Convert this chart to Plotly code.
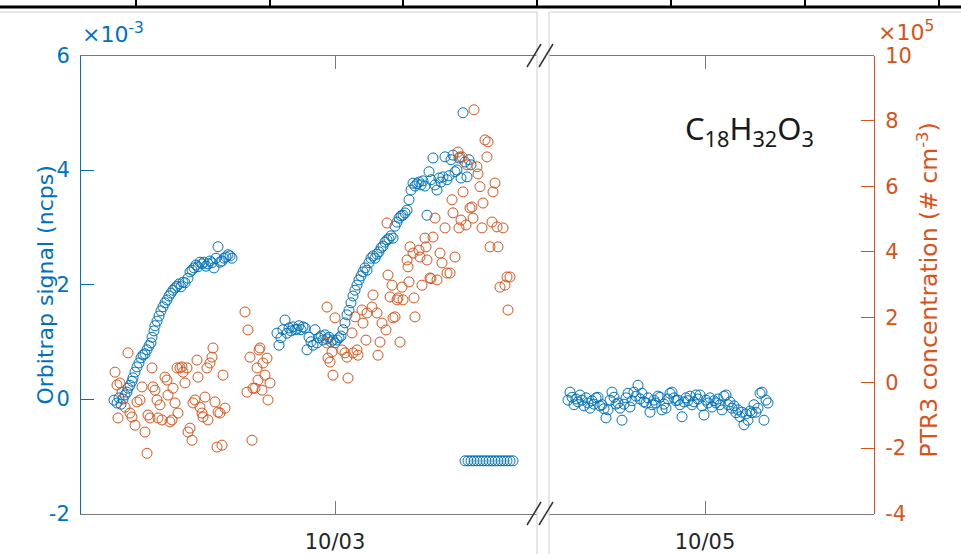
import pandas as pd
import plotly.graph_objects as go

# ---------------------------------------------------------------------------
# Data (time in hours after 2021-10-02 00:00)
# Orbitrap signal in units of 1e-3 ncps, PTR3 concentration in units of 1e5 cm^-3
# ---------------------------------------------------------------------------
orbitrap_left_hours = [
    1.9, 2.2, 2.4, 2.6, 2.8, 3.0, 3.2, 3.3, 3.5, 3.7, 3.8, 4.0, 4.2, 4.4, 4.6, 4.8,
    5.0, 5.2, 5.4, 5.6, 5.7, 5.9, 6.0, 6.2, 6.4, 6.6, 6.8, 7.0, 7.2, 7.4, 7.6, 7.8,
    8.0, 8.2, 8.4, 8.6, 8.8, 9.0, 9.3, 9.5, 9.7, 9.9, 10.1, 10.3, 10.5, 10.7, 10.9,
    11.1, 11.3, 11.5, 11.7, 11.9, 12.1, 12.3, 12.5, 12.7, 12.9, 13.1, 13.3, 13.5, 13.7,
    18.2, 18.4, 18.6, 18.8, 19.0, 19.2, 19.4, 19.6, 19.8, 20.0, 20.2, 20.4, 20.6, 20.8,
    21.0, 21.2, 21.4, 21.6, 21.8, 22.0, 22.2, 22.4, 22.6, 22.8, 23.0, 23.2, 23.4, 23.6,
    23.8, 24.0, 24.2, 24.4, 24.6, 24.8, 25.0, 25.2, 25.4, 25.6, 25.8, 26.0, 26.2, 26.4,
    26.6, 26.8, 27.0, 27.2, 27.4, 27.6, 27.8, 28.0, 28.2, 28.4, 28.6, 28.8, 29.0, 29.2,
    29.4, 29.6, 29.8, 30.0, 30.2, 30.4, 30.6, 30.8, 31.0, 31.2, 31.4, 31.6, 31.8, 32.0,
    32.2, 32.4, 32.6, 32.8, 33.0, 33.2, 33.4, 33.6, 33.8, 34.0, 34.2, 34.4, 34.6, 34.8,
    35.0, 35.2, 35.4, 35.6, 35.8, 36.0, 36.2, 36.4, 36.6, 36.8, 37.0, 37.2, 37.4, 37.6,
]
orbitrap_left_signal = [
    -0.02, -0.07, 0.02, -0.09, 0.00, 0.07, 0.12, 0.19, 0.24, 0.31, 0.37, 0.47, 0.56, 0.63, 0.72, 0.77,
    0.79, 0.86, 0.93, 0.98, 1.08, 1.19, 1.28, 1.36, 1.45, 1.54, 1.61, 1.68, 1.73, 1.80, 1.85, 1.90,
    1.94, 1.97, 2.01, 1.96, 2.04, 2.03, 2.11, 2.22, 2.25, 2.29, 2.34, 2.31, 2.39, 2.36, 2.39,
    2.32, 2.36, 2.41, 2.38, 2.29, 2.46, 2.66, 2.39, 2.41, 2.46, 2.48, 2.52, 2.50, 2.46,
    1.15, 0.94, 1.07, 1.21, 1.38, 1.15, 1.24, 1.19, 1.26, 1.21, 1.22, 1.28, 1.21, 1.26,
    1.24, 0.86, 1.08, 1.00, 0.94, 1.21, 0.98, 1.07, 1.10, 1.03, 1.12, 1.05, 1.08, 1.00,
    1.03, 0.98, 1.03, 1.07, 1.10, 1.21, 1.33, 1.47, 1.55, 1.68, 1.80, 1.90, 1.99, 2.08,
    2.15, 2.22, 2.29, 2.25, 2.38, 2.46, 2.50, 2.46, 2.53, 2.57, 2.64, 2.67, 2.74, 2.78,
    2.80, 2.85, 2.81, 3.02, 3.09, 3.16, 3.20, 3.21, 3.25, 3.30, 3.48, 3.65, 3.77, 3.72,
    3.76, 3.79, 3.74, 3.81, 3.72, 3.21, 3.97, 3.83, 4.21, 3.74, 3.65, 3.86, 3.79, 3.88,
    4.23, 3.83, 3.90, 4.18, 4.26, 3.97, 4.00, 4.21, 3.86, 5.00, 4.14, 3.88, 4.18, 4.09,
]

orbitrap_flat_hours = [
    37.0, 37.3, 37.6, 37.9, 38.2, 38.5, 38.8, 39.1, 39.4, 39.7,
    40.0, 40.3, 40.6, 40.9, 41.2, 41.5, 41.8,
]
orbitrap_flat_signal = [
    -1.08, -1.08, -1.08, -1.08, -1.08, -1.08, -1.08, -1.08, -1.08, -1.08,
    -1.08, -1.08, -1.08, -1.08, -1.08, -1.08, -1.08,
]

orbitrap_right_hours = [
    58.3, 58.5, 58.7, 58.9, 59.1, 59.3, 59.5, 59.7, 59.9, 60.1,
    60.3, 60.5, 60.7, 60.9, 61.1, 61.3, 61.5, 61.7, 61.9, 62.1,
    62.3, 62.5, 62.7, 62.9, 63.1, 63.3, 63.5, 63.7, 63.9, 64.1,
    64.3, 64.5, 64.7, 64.9, 65.1, 65.3, 65.5, 65.7, 65.9, 66.1,
    66.3, 66.5, 66.7, 66.9, 67.1, 67.3, 67.5, 67.7, 67.9, 68.1,
    68.3, 68.5, 68.7, 68.9, 69.1, 69.3, 69.5, 69.7, 69.9, 70.1,
    70.3, 70.5, 70.7, 70.9, 71.1, 71.3, 71.5, 71.7, 71.9, 72.1,
    72.3, 72.5, 72.7, 72.9, 73.1, 73.3, 73.5, 73.7, 73.9, 74.1,
    74.3, 74.5, 74.7, 74.9, 75.1, 75.3, 75.5, 75.7, 75.9, 76.1,
    76.3, 76.5, 76.7, 76.9, 77.1, 77.3, 77.5, 77.7, 77.9, 78.1,
    78.3,
]
orbitrap_right_signal = [
    -0.02, 0.12, 0.03, -0.10, 0.00, -0.05, 0.07, -0.02, -0.12, 0.02,
    -0.07, -0.16, -0.03, -0.09, 0.02, 0.03, -0.12, -0.10, -0.17, -0.33,
    -0.19, -0.02, 0.12, 0.03, -0.09, -0.07, -0.16, -0.37, -0.09, 0.02,
    0.10, -0.14, -0.03, 0.12, 0.05, 0.24, 0.00, 0.10, -0.05, -0.07,
    0.02, -0.23, -0.10, -0.02, -0.07, 0.05, 0.03, -0.19, -0.09, -0.16,
    0.00, 0.10, 0.12, 0.02, -0.03, -0.02, -0.10, -0.31, -0.05, 0.02,
    -0.03, 0.05, -0.10, -0.05, 0.07, 0.00, 0.07, -0.12, -0.28, -0.02,
    -0.07, 0.02, -0.14, -0.03, -0.07, 0.00, -0.10, -0.19, 0.05, 0.07,
    -0.10, -0.05, -0.16, -0.12, -0.24, -0.19, -0.31, -0.23, -0.45, -0.26,
    -0.37, -0.21, -0.24, -0.10, -0.23, -0.16, 0.10, 0.12, -0.37, -0.02,
    -0.07,
]

ptr3_hours = [
    2.0, 2.2, 2.3, 2.5, 2.7, 3.0, 3.3, 3.5, 3.7, 4.0, 4.2, 4.5, 4.7, 5.0, 5.2, 5.3,
    5.5, 5.7, 5.8, 6.0, 6.2, 6.3, 6.5, 6.7, 7.0, 7.2, 7.3, 7.5, 7.7, 7.8, 8.0, 8.2,
    8.3, 8.5, 8.7, 8.8, 9.0, 9.2, 9.3, 9.5, 9.7, 9.8, 10.0, 10.2, 10.3, 10.5, 10.7,
    10.8, 11.0, 11.2, 11.3, 11.5, 11.7, 11.8, 12.0, 12.2, 12.3, 12.5, 12.7, 12.8, 13.0,
    15.0, 15.2, 15.3, 15.5, 15.7, 15.8, 16.0, 16.2, 16.3, 16.4, 16.5, 16.7, 16.8, 17.0,
    17.2, 17.3, 17.5,
    23.2, 23.2, 23.3, 23.5, 23.7, 23.8, 24.0, 24.7, 25.0, 25.2, 25.3, 25.7, 25.8, 26.0,
    26.2, 26.3, 26.7, 26.8, 27.1, 27.2, 27.7, 27.8, 28.2, 28.3, 28.5, 28.7, 29.1, 29.2,
    29.3, 29.5, 29.7, 29.8, 30.0, 30.2, 30.3, 30.5, 30.7, 30.8, 31.2, 31.3, 31.4, 31.5,
    31.8, 31.9, 32.0, 32.4, 32.5, 32.7, 33.0, 33.1, 33.2, 33.5, 33.6, 33.8, 34.0, 34.2,
    34.5, 34.7, 35.0, 35.2, 35.5, 35.7, 35.8, 36.0, 36.3, 36.4, 36.5, 36.6, 36.7, 36.8,
    37.1, 37.2, 37.5, 37.7, 37.8, 37.9, 38.2, 38.3, 38.5, 38.7, 38.8, 39.0, 39.2, 39.3,
    39.5, 39.7, 39.8, 40.0, 40.2, 40.3, 40.5, 40.8, 41.0, 41.2, 41.3, 41.5,
]
ptr3_conc = [
    0.32, -0.07, -1.08, -0.01, -0.29, -0.75, 0.91, -0.93, -1.05, -1.30, -0.59, -0.53, -0.13, -1.51, -2.16, -0.99,
    -1.08, 0.45, -0.13, -0.23, -0.53, -1.08, -0.68, -1.14, 0.17, 0.08, -0.38, -1.20, -1.14, -0.17, -0.62, 0.45,
    -0.93, 0.45, 0.48, 0.32, -0.01, 0.45, -1.51, -1.39, -1.76, -0.62, -0.53, 0.69, 0.17, -0.75, -0.93,
    -1.05, -0.44, 0.45, -1.14, 0.60, 0.78, 1.06, -0.59, -1.97, -0.90, -0.93, -1.91, 0.23, -0.78,
    2.16, -0.29, 1.61, 0.78, -1.76, -0.17, -0.17, 0.45, 0.08, 1.00, 1.06, -0.23, 0.60, 0.23,
    0.75, -0.53, -0.01,
    2.31, 1.21, 0.75, 0.63, 0.94, 0.23, 1.98, 1.00, 0.91, 0.78, 0.14, 1.52, 0.91, 2.01,
    1.00, 0.84, 2.22, 1.82, 1.30, 2.13, 2.31, 2.68, 2.13, 0.84, 1.24, 1.82, 1.61, 4.88,
    3.29, 2.62, 2.98, 1.98, 2.01, 2.53, 2.59, 1.24, 2.92, 2.53, 3.75, 3.54, 3.08, 4.15,
    3.96, 2.59, 2.01, 4.05, 3.84, 2.98, 4.42, 4.15, 3.75, 3.20, 3.18, 4.45, 5.03, 3.14,
    3.96, 3.66, 4.73, 3.35, 3.35, 5.59, 5.19, 3.84, 7.05, 4.73, 6.90, 4.97, 6.90, 5.83,
    4.82, 6.66, 5.34, 5.37, 5.03, 8.34, 6.60, 6.38, 5.99, 4.73, 5.49, 7.42, 6.90, 7.36,
    4.15, 4.91, 5.83, 6.10, 4.76, 4.15, 2.92, 4.73, 2.98, 3.23, 2.22, 3.23,
]

# axis settings
left_hours_range = [-1.4, 44.2]
right_hours_range = [56.4, 88.9]
left_tick_hours = [24]
right_tick_hours = [72]
x_tick_labels_left = ["10/03"]
x_tick_labels_right = ["10/05"]
orbitrap_ticks = [-2, 0, 2, 4, 6]
orbitrap_tick_labels = ["-2", "0", "2", "4", "6"]
ptr3_ticks = [-4, -2, 0, 2, 4, 6, 8, 10]
ptr3_tick_labels = ["-4", "-2", "0", "2", "4", "6", "8", "10"]

BASE = pd.Timestamp("2021-10-02")


def to_time(hours):
    return [BASE + pd.Timedelta(hours=h) for h in hours]


BLUE = "#0072BD"
ORANGE = "#D95319"
AXIS_GRAY = "#7a7a7a"
TEXT_DARK = "#262626"
FONT = "DejaVu Sans"

W, H = 961, 554


def px(x):
    return x / W


def py(y):
    return 1 - y / H


left_dom = [px(81), px(537)]
right_dom = [px(549), px(874)]
y_dom = [py(513.5), py(55.5)]

marker_blue = dict(symbol="circle-open", size=10, color=BLUE, line=dict(width=1, color=BLUE))
marker_orange = dict(symbol="circle-open", size=10, color=ORANGE, line=dict(width=1, color=ORANGE))

fig = go.Figure()
fig.add_trace(go.Scatter(
    x=to_time(ptr3_hours), y=ptr3_conc, mode="markers", marker=marker_orange,
    xaxis="x", yaxis="y3", name="PTR3",
))
fig.add_trace(go.Scatter(
    x=to_time(orbitrap_left_hours), y=orbitrap_left_signal, mode="markers", marker=marker_blue,
    xaxis="x", yaxis="y", name="Orbitrap",
))
fig.add_trace(go.Scatter(
    x=to_time(orbitrap_flat_hours), y=orbitrap_flat_signal, mode="markers", marker=marker_blue,
    xaxis="x", yaxis="y", name="Orbitrap",
))
fig.add_trace(go.Scatter(
    x=to_time(orbitrap_right_hours), y=orbitrap_right_signal, mode="markers", marker=marker_blue,
    xaxis="x2", yaxis="y2", name="Orbitrap",
))

xaxis_common = dict(
    automargin=False,
    showgrid=False, zeroline=False, showline=True, linecolor=AXIS_GRAY, linewidth=1,
    mirror="ticks", ticks="inside", ticklen=13, tickcolor=AXIS_GRAY, tickwidth=1,
    tickfont=dict(family=FONT, size=21, color=TEXT_DARK), ticklabelstandoff=9,
)

fig.update_layout(
    width=W, height=H,
    margin=dict(l=0, r=0, t=0, b=0, autoexpand=False),
    paper_bgcolor="white", plot_bgcolor="white",
    showlegend=False,
    font=dict(family=FONT, color=TEXT_DARK),
    xaxis=dict(
        domain=left_dom, anchor="y",
        range=to_time(left_hours_range),
        tickvals=to_time(left_tick_hours), ticktext=x_tick_labels_left,
        **xaxis_common,
    ),
    xaxis2=dict(
        domain=right_dom, anchor="y2",
        range=to_time(right_hours_range),
        tickvals=to_time(right_tick_hours), ticktext=x_tick_labels_right,
        **xaxis_common,
    ),
    yaxis=dict(
        automargin=False,
        domain=y_dom, anchor="x", range=[-2, 6],
        tickvals=orbitrap_ticks, ticktext=orbitrap_tick_labels,
        showgrid=False, zeroline=False, showline=True, linecolor=BLUE, linewidth=1,
        ticks="inside", ticklen=13, tickcolor=BLUE,
        tickfont=dict(family=FONT, size=21, color=BLUE), ticklabelstandoff=6,
    ),
    yaxis2=dict(
        automargin=False,
        domain=y_dom, anchor="x2", range=[-2, 6],
        showgrid=False, zeroline=False, showline=False, showticklabels=False, ticks="",
    ),
    yaxis3=dict(
        automargin=False,
        domain=y_dom, overlaying="y", side="right", anchor="free", position=right_dom[1],
        range=[-4, 10], tickvals=ptr3_ticks, ticktext=ptr3_tick_labels,
        showgrid=False, zeroline=False, showline=True, linecolor=ORANGE, linewidth=1,
        ticks="inside", ticklen=13, tickcolor=ORANGE,
        tickfont=dict(family=FONT, size=21, color=ORANGE), ticklabelstandoff=6,
    ),
)

# axis titles, exponent labels and compound name
fig.add_annotation(
    x=px(30), y=py(285), xref="paper", yref="paper", text="Orbitrap signal (ncps)",
    textangle=-90, showarrow=False, font=dict(family=FONT, size=22, color=BLUE),
)
fig.add_annotation(
    x=px(945), y=py(290), xref="paper", yref="paper", text="PTR3 concentration (# cm<sup>-3</sup>)",
    textangle=-90, showarrow=False, font=dict(family=FONT, size=23.5, color=ORANGE),
)
fig.add_annotation(
    x=px(80), y=py(49), xref="paper", yref="paper", xanchor="left", yanchor="bottom",
    text="\u00d710<sup>-3</sup>", showarrow=False, font=dict(family=FONT, size=22, color=BLUE),
)
fig.add_annotation(
    x=px(876), y=py(47), xref="paper", yref="paper", xanchor="left", yanchor="bottom",
    text="\u00d710<sup>5</sup>", showarrow=False, font=dict(family=FONT, size=22, color=ORANGE),
)
fig.add_annotation(
    x=px(749), y=py(130), xref="paper", yref="paper", xanchor="center", yanchor="middle",
    text="C<sub>18</sub>H<sub>32</sub>O<sub>3</sub>", showarrow=False,
    font=dict(family="Noto Sans", size=31, color="#1a1a1a"),
)

shapes = []
# header rule with cell separators
shapes.append(dict(type="line", xref="paper", yref="paper", x0=0, x1=1, y0=py(7), y1=py(7),
                   line=dict(color="black", width=3)))
for xs in [136, 270, 403, 537, 671, 805, 939]:
    shapes.append(dict(type="line", xref="paper", yref="paper", x0=px(xs), x1=px(xs),
                       y0=py(0), y1=py(7), line=dict(color="black", width=2)))
# thin frame lines around the two figure panels
for x0, x1 in [(0, 537), (549, 961)]:
    shapes.append(dict(type="line", xref="paper", yref="paper", x0=px(x0), x1=px(x1),
                       y0=py(12), y1=py(12), line=dict(color="#cfcfcf", width=1.2)))
for xs in [537, 549]:
    shapes.append(dict(type="line", xref="paper", yref="paper", x0=px(xs), x1=px(xs),
                       y0=py(12), y1=py(554), line=dict(color="#d6d6d6", width=1.2)))
# axis break marks
for yc in [55.5, 513.5]:
    for xs in [527, 539]:
        shapes.append(dict(type="line", xref="paper", yref="paper",
                           x0=px(xs), y0=py(yc + 11.5), x1=px(xs + 14), y1=py(yc - 11.5),
                           line=dict(color="#333333", width=1.5)))
fig.update_layout(shapes=shapes)

fig.write_html("out.html")
